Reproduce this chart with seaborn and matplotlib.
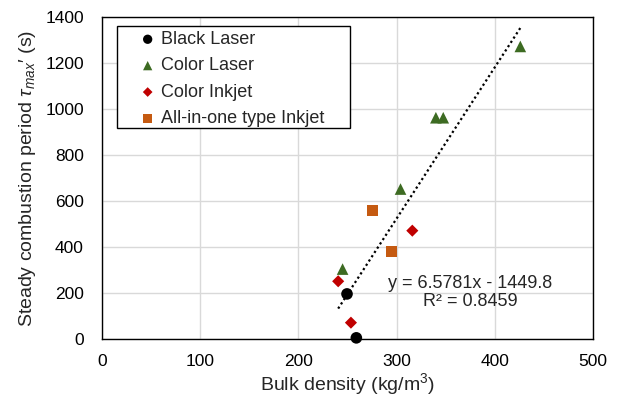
import numpy as np
import pandas as pd
import matplotlib.pyplot as plt
from matplotlib.patches import Rectangle
import seaborn as sns

# data
black_x = [249.5, 259.0]
black_y = [196, 5]
claser_x = [245.0, 304.0, 340.0, 347.5, 426.0]
claser_y = [304, 652, 962, 962, 1272]
cink_x = [240.5, 253.5, 316.0]
cink_y = [251, 71, 471]
aio_x = [275.5, 294.5]
aio_y = [559, 380]

slope, intercept = 6.5781, -1449.8
r2 = 0.8459

groups = ['Black Laser', 'Color Laser', 'Color Inkjet', 'All-in-one type Inkjet']
df = pd.concat([
    pd.DataFrame({'x': black_x, 'y': black_y, 'type': groups[0]}),
    pd.DataFrame({'x': claser_x, 'y': claser_y, 'type': groups[1]}),
    pd.DataFrame({'x': cink_x, 'y': cink_y, 'type': groups[2]}),
    pd.DataFrame({'x': aio_x, 'y': aio_y, 'type': groups[3]}),
])

sns.set_style('white')
plt.rcParams['font.family'] = ['Liberation Sans', 'DejaVu Sans']
plt.rcParams['mathtext.fontset'] = 'custom'
plt.rcParams['mathtext.it'] = 'Liberation Sans:italic'
plt.rcParams['mathtext.rm'] = 'Liberation Sans'

fig = plt.figure(figsize=(6.22, 3.99), dpi=100)
ax = fig.add_axes([102/622, 1 - 339/399, 491/622, 322/399])

palette = {groups[0]: 'black', groups[1]: '#3d6b22', groups[2]: '#c00000', groups[3]: '#c55a11'}
markers = {groups[0]: 'o', groups[1]: '^', groups[2]: 'D', groups[3]: 's'}
sizes = {groups[0]: 70, groups[1]: 70, groups[2]: 38, groups[3]: 60}

for g in groups:
    sub = df[df['type'] == g]
    sns.scatterplot(data=sub, x='x', y='y', color=palette[g], marker=markers[g],
                    s=sizes[g], edgecolor='none', label=g, ax=ax, zorder=3, clip_on=False)

# linear trendline over the data range
xs = np.array([df['x'].min(), df['x'].max()])
ax.plot(xs, slope * xs + intercept, color='black', linestyle=(0, (1, 1.3)), lw=1.6, zorder=2)

ax.set_xlim(0, 500)
ax.set_ylim(0, 1400)
ax.set_xticks(range(0, 501, 100))
ax.set_yticks(range(0, 1401, 200))
ax.grid(True, color='#d9d9d9', lw=1)
for s in ax.spines.values():
    s.set_color('black')
    s.set_linewidth(1)
ax.tick_params(labelsize=12.5, length=0, colors='black')
ax.tick_params(axis='x', pad=11)
ax.tick_params(axis='y', pad=13)

ax.set_xlabel('Bulk density (kg/m$^3$)', fontsize=14, labelpad=1)
ax.set_ylabel("Steady combustion period $\\tau_{max}$\u2032 (s)", fontsize=14, labelpad=5)

fig.text(470/622, 1 - 284/399, 'y = 6.5781x - 1449.8', ha='center', va='center', fontsize=13)
fig.text(470/622, 1 - 301/399, 'R² = %.4f' % r2, ha='center', va='center', fontsize=13)

# legend box drawn separately so the padding matches the original
box = Rectangle((117/622, 1 - 128/399), 233/622, 102/399, transform=fig.transFigure,
                facecolor='white', edgecolor='black', lw=1, zorder=4)
ax.add_patch(box)
leg = ax.legend(loc='upper left', bbox_to_anchor=(38/491, 1 - 14/322), fontsize=13,
                frameon=False, borderpad=0, labelspacing=0.52, handletextpad=0.3,
                handlelength=0.85, borderaxespad=0, markerscale=0.8)
leg.set_zorder(5)

fig.savefig('out.png', dpi=100)
